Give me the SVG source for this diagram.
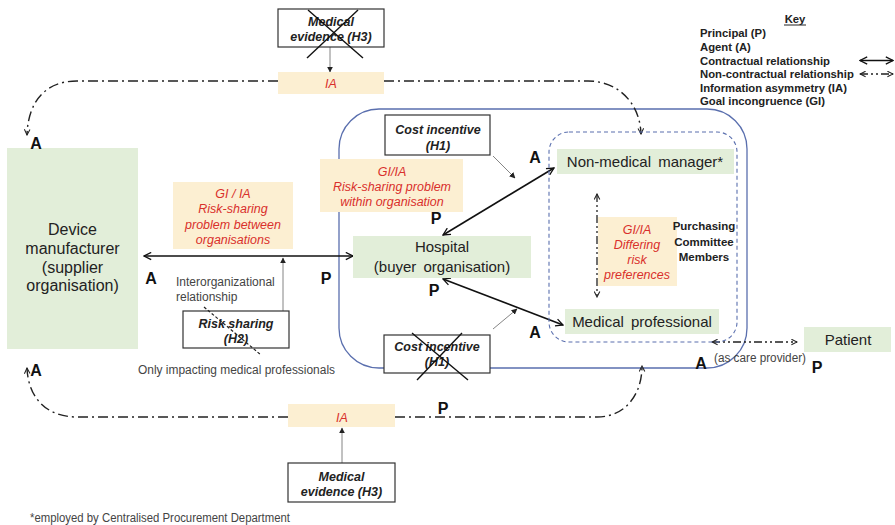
<svg xmlns="http://www.w3.org/2000/svg" width="895" height="525" viewBox="0 0 895 525">
<defs>
<style>
.green{fill:#e2eed9;stroke:none}
.note{fill:#fcefd2;stroke:none}
.wbox{fill:#fff;stroke:#333;stroke-width:1.2}
.t15{font-family:"Liberation Sans",Arial,sans-serif;font-size:15px;fill:#222;text-anchor:middle}
.t16{font-family:"Liberation Sans",Arial,sans-serif;font-size:16px;fill:#222;text-anchor:middle}
.red{font-family:"Liberation Sans",Arial,sans-serif;font-size:12.5px;font-style:italic;fill:#d9302c;text-anchor:middle}
.bi{font-family:"Liberation Sans",Arial,sans-serif;font-size:12.5px;font-style:italic;font-weight:bold;fill:#222;text-anchor:middle}
.ap{font-family:"Liberation Sans",Arial,sans-serif;font-size:16px;font-weight:bold;fill:#111;text-anchor:middle}
.small{font-family:"Liberation Sans",Arial,sans-serif;font-size:12px;fill:#444}
.key{font-family:"Liberation Sans",Arial,sans-serif;font-size:11.3px;font-weight:bold;fill:#222}
.pcm{font-family:"Liberation Sans",Arial,sans-serif;font-size:11.5px;font-weight:bold;fill:#222;text-anchor:middle}
.solid{fill:none;stroke:#111;stroke-width:1.6;marker-start:url(#chev);marker-end:url(#chev)}
.dd{fill:none;stroke:#222;stroke-width:1.3;stroke-dasharray:8 3 2 3 2 3}
.dashdot{fill:none;stroke:#222;stroke-width:1.4;stroke-dasharray:10 4 2 4}
.thin{fill:none;stroke:#777;stroke-width:0.9;marker-end:url(#tri)}
.cross{stroke:#111;stroke-width:1.4}
</style>
<marker id="chev" viewBox="0 0 10 10" refX="9" refY="5" markerWidth="9" markerHeight="9" markerUnits="userSpaceOnUse" orient="auto-start-reverse">
<path d="M1,1 L9,5 L1,9" fill="none" stroke="#111" stroke-width="1.4"/>
</marker>
<marker id="chevs" viewBox="0 0 10 10" refX="9" refY="5" markerWidth="7" markerHeight="7" markerUnits="userSpaceOnUse" orient="auto-start-reverse">
<path d="M1,1 L9,5 L1,9" fill="none" stroke="#222" stroke-width="1.5"/>
</marker>
<marker id="tri" viewBox="0 0 10 10" refX="9" refY="5" markerWidth="6" markerHeight="6" markerUnits="userSpaceOnUse" orient="auto">
<path d="M0,0 L10,5 L0,10 z" fill="#222"/>
</marker>
</defs>

<!-- containers -->
<g id="hospital-boundary">
<rect x="339" y="109" width="408" height="259" rx="40" fill="none" stroke="#5a6fae" stroke-width="1.3"/>
</g>

<!-- connectors -->
<g id="connectors">
<path class="solid" d="M144,256 H353"/>
<path class="solid" d="M443,235 L554,168"/>
<path class="solid" d="M443,279 L563,325"/>
<path class="dd" d="M712,342 H797" marker-start="url(#chevs)" marker-end="url(#chevs)"/>
<path class="dd" d="M597,194 V297" marker-start="url(#chevs)" marker-end="url(#chevs)"/>
<path class="dashdot" d="M278,81 H77 C45,81 28,102 27,135" marker-end="url(#chevs)"/>
<path class="dashdot" d="M384,81 H588 C618,81 640,103 641,134" marker-end="url(#chevs)"/>
<path class="dashdot" d="M288,417 H77 C45,417 28,396 27,368" marker-end="url(#chevs)"/>
<path class="dashdot" d="M395,417 H597 C625,417 642,395 642,366" marker-end="url(#chevs)"/>
<path class="thin" d="M330,47 V72"/>
<path class="thin" d="M342,463 V428"/>
<path class="thin" d="M283,311 V258"/>
<path class="thin" d="M493,156 L515,178"/>
<path class="thin" d="M493,329 L517,309"/>
<path d="M860,60.5 H893" class="solid" stroke-width="1.3"/>
<path d="M860,74 H893" class="dd" marker-start="url(#chevs)" marker-end="url(#chevs)"/>
</g>

<!-- nodes -->
<g id="device-manufacturer">
<rect class="green" x="7" y="148" width="131" height="201"/>
<text class="t16" x="72.5" y="235">Device</text>
<text class="t16" x="72.5" y="254">manufacturer</text>
<text class="t16" x="72.5" y="273">(supplier</text>
<text class="t16" x="72.5" y="291">organisation)</text>
</g>
<g id="hospital">
<rect class="green" x="353" y="236" width="178" height="42"/>
<text class="t15" x="442" y="252">Hospital</text>
<text class="t15" x="442" y="272" word-spacing="3">(buyer organisation)</text>
</g>
<g id="non-medical-manager">
<rect class="green" x="557" y="149" width="177" height="25"/>
<text class="t15" x="645" y="167" word-spacing="3">Non-medical manager*</text>
</g>
<g id="medical-professional">
<rect class="green" x="565" y="309" width="154" height="25"/>
<text class="t15" x="642" y="327" word-spacing="3">Medical professional</text>
</g>
<g id="patient">
<rect class="green" x="804" y="327" width="87" height="25"/>
<text class="t15" x="848" y="345">Patient</text>
</g>

<g id="ia-top">
<rect class="note" x="278" y="72" width="106" height="22"/>
<text class="red" x="331" y="88">IA</text>
</g>
<g id="ia-bottom">
<rect class="note" x="288" y="404" width="107" height="23"/>
<text class="red" x="342" y="421.5">IA</text>
</g>
<g id="risk-between">
<rect class="note" x="173" y="182" width="120" height="67"/>
<text class="red" x="233" y="197.5">GI / IA</text>
<text class="red" x="233" y="212.5">Risk-sharing</text>
<text class="red" x="233" y="228.5">problem between</text>
<text class="red" x="233" y="243.5">organisations</text>
</g>
<g id="risk-within">
<rect class="note" x="320" y="159" width="143" height="53"/>
<text class="red" x="392" y="175.5">GI/IA</text>
<text class="red" x="392" y="190.5">Risk-sharing problem</text>
<text class="red" x="392" y="205.5">within organisation</text>
</g>
<g id="differing-risk">
<rect class="note" x="598" y="217" width="79" height="69"/>
<text class="red" x="637" y="233.5">GI/IA</text>
<text class="red" x="637" y="248.5">Differing</text>
<text class="red" x="637" y="263.5">risk</text>
<text class="red" x="637" y="278.5">preferences</text>
</g>
<g id="purchasing-committee">
<rect x="549" y="132" width="188" height="210" rx="20" fill="none" stroke="#5a6fae" stroke-width="1.1" stroke-dasharray="4 3"/>
<text class="pcm" x="704" y="230">Purchasing</text>
<text class="pcm" x="704" y="246">Committee</text>
<text class="pcm" x="704" y="261">Members</text>
</g>

<g id="medical-evidence-top">
<rect class="wbox" x="278" y="9" width="106" height="38"/>
<text class="bi" x="331" y="25.5">Medical</text>
<text class="bi" x="331" y="40.5">evidence (H3)</text>
<line class="cross" x1="308" y1="10" x2="363" y2="58"/>
<line class="cross" x1="358" y1="10" x2="307" y2="58"/>
</g>
<g id="cost-incentive-top">
<rect class="wbox" x="385" y="115" width="105" height="40"/>
<text class="bi" x="438" y="133.5">Cost incentive</text>
<text class="bi" x="438" y="149.5">(H1)</text>
</g>
<g id="risk-sharing">
<rect class="wbox" x="183" y="311" width="106" height="37"/>
<text class="bi" x="236" y="327.5">Risk sharing</text>
<text class="bi" x="236" y="342.5">(H2)</text>
<line x1="204" y1="307" x2="261" y2="355" stroke="#222" stroke-width="1.2" stroke-dasharray="3 2"/>
</g>
<g id="cost-incentive-bottom">
<rect class="wbox" x="384" y="335" width="106" height="38"/>
<text class="bi" x="437" y="350.5">Cost incentive</text>
<text class="bi" x="437" y="365.5">(H1)</text>
<line class="cross" x1="412" y1="333" x2="468" y2="380"/>
<line class="cross" x1="462" y1="333" x2="417" y2="380"/>
</g>
<g id="medical-evidence-bottom">
<rect class="wbox" x="288" y="463" width="107" height="39"/>
<text class="bi" x="341.5" y="480.5">Medical</text>
<text class="bi" x="341.5" y="495.5">evidence (H3)</text>
</g>

<!-- role labels -->
<g id="labels">
<text class="ap" x="36" y="149">A</text>
<text class="ap" x="151" y="284">A</text>
<text class="ap" x="326" y="284">P</text>
<text class="ap" x="535" y="163">A</text>
<text class="ap" x="436" y="224">P</text>
<text class="ap" x="434" y="296">P</text>
<text class="ap" x="535" y="338">A</text>
<text class="ap" x="36" y="376">A</text>
<text class="ap" x="443" y="414">P</text>
<text class="ap" x="701" y="369">A</text>
<text class="ap" x="817" y="373">P</text>
<text class="small" x="176" y="286">Interorganizational</text>
<text class="small" x="176" y="301">relationship</text>
<text class="small" x="138" y="374" textLength="197" lengthAdjust="spacingAndGlyphs">Only impacting medical professionals</text>
<text class="small" x="714" y="362" textLength="92" lengthAdjust="spacingAndGlyphs">(as care provider)</text>
<text class="small" x="30" y="522" font-size="11" fill="#222" textLength="260" lengthAdjust="spacingAndGlyphs">*employed by  Centralised Procurement Department</text>
</g>

<!-- key -->
<g id="key">
<text class="key" x="795" y="23" text-anchor="middle">Key</text>
<line x1="784" y1="25" x2="806" y2="25" stroke="#222" stroke-width="1"/>
<text class="key" x="700" y="37">Principal (P)</text>
<text class="key" x="700" y="51">Agent (A)</text>
<text class="key" x="700" y="64.5">Contractual relationship</text>
<text class="key" x="700" y="78">Non-contractual relationship</text>
<text class="key" x="700" y="91.5">Information asymmetry (IA)</text>
<text class="key" x="700" y="104.5">Goal incongruence (GI)</text>
</g>
</svg>
